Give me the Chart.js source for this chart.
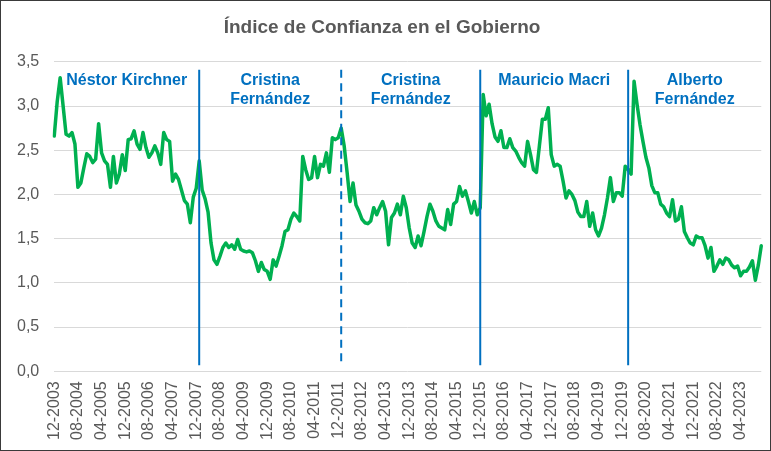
<!DOCTYPE html>
<html>
<head>
<meta charset="utf-8">
<script src="https://cdn.jsdelivr.net/npm/chart.js@4.4.1/dist/chart.umd.min.js"></script>
<style>
  html, body { margin: 0; padding: 0; background: #fff; }
  #frame { width: 771px; height: 451px; box-sizing: border-box; border: 1px solid #3a3a3a; }
  canvas { display: block; }
</style>
</head>
<body>
<div id="frame"><canvas id="myChart" width="769" height="449"></canvas></div>
<script>
// monthly index, first month 12-2003, 240 months
const startYear = 2003;
const startMonth = 12;

const indice = [
  2.66, 3.05, 3.32, 3.00, 2.68, 2.66, 2.70, 2.57, 2.08, 2.13, 2.30, 2.46,
  2.43, 2.36, 2.40, 2.80, 2.47, 2.38, 2.34, 2.08, 2.43, 2.13, 2.23, 2.45,
  2.27, 2.62, 2.63, 2.72, 2.57, 2.51, 2.70, 2.53, 2.42, 2.47, 2.55, 2.47,
  2.34, 2.70, 2.62, 2.60, 2.15, 2.23, 2.17, 2.05, 1.93, 1.89, 1.68, 1.97,
  2.07, 2.38, 2.05, 1.95, 1.80, 1.45, 1.26, 1.21, 1.30, 1.40, 1.45, 1.40,
  1.43, 1.38, 1.49, 1.38, 1.36, 1.35, 1.36, 1.34, 1.25, 1.13, 1.23, 1.15,
  1.13, 1.04, 1.26, 1.19, 1.30, 1.42, 1.58, 1.60, 1.72, 1.79, 1.75, 1.70,
  2.43, 2.28, 2.17, 2.19, 2.43, 2.19, 2.34, 2.32, 2.47, 2.25, 2.64, 2.62,
  2.64, 2.75, 2.55, 2.25, 1.92, 2.13, 1.88, 1.81, 1.72, 1.68, 1.67, 1.70,
  1.85, 1.77, 1.85, 1.92, 1.81, 1.43, 1.74, 1.79, 1.89, 1.77, 1.98, 1.85,
  1.62, 1.45, 1.40, 1.53, 1.42, 1.58, 1.75, 1.89, 1.81, 1.70, 1.64, 1.62,
  1.60, 1.83, 1.66, 1.89, 1.92, 2.09, 1.98, 2.04, 1.92, 1.79, 1.92, 1.77,
  1.85, 3.13, 2.89, 3.02, 2.80, 2.65, 2.60, 2.72, 2.53, 2.53, 2.63, 2.53,
  2.49, 2.42, 2.36, 2.32, 2.60, 2.45, 2.28, 2.25, 2.55, 2.85, 2.85, 2.98,
  2.45, 2.32, 2.34, 2.32, 2.15, 1.96, 2.04, 2.00, 1.93, 1.80, 1.75, 1.75,
  1.92, 1.64, 1.79, 1.60, 1.53, 1.62, 1.77, 1.96, 2.19, 1.92, 2.02, 2.02,
  1.98, 2.32, 2.28, 2.23, 3.28, 3.02, 2.79, 2.60, 2.42, 2.30, 2.10, 2.02,
  2.02, 1.89, 1.86, 1.79, 1.75, 1.94, 1.70, 1.72, 1.86, 1.58, 1.51, 1.45,
  1.43, 1.53, 1.51, 1.51, 1.42, 1.28, 1.40, 1.13, 1.19, 1.26, 1.21, 1.28,
  1.26, 1.20, 1.17, 1.19, 1.08, 1.13, 1.13, 1.18, 1.25, 1.03, 1.20, 1.42
];

// government changes (vertical lines) and names
const markers = ["01-2008", "01-2012", "12-2015", "02-2020"];
const markerDashed = [false, true, false, false];
const periodNames = [
  ["Néstor Kirchner"],
  ["Cristina", "Fernández"],
  ["Cristina", "Fernández"],
  ["Mauricio Macri"],
  ["Alberto", "Fernández"]
];
const yTicks = [0, 0.5, 1, 1.5, 2, 2.5, 3, 3.5];
const labelEvery = 8;

const labels = [];
for (let k = 0; k < indice.length; k++) {
  const m = (startMonth - 1 + k) % 12 + 1;
  const y = startYear + Math.floor((startMonth - 1 + k) / 12);
  labels.push(String(m).padStart(2, "0") + "-" + y);
}

const fontFam = '"Liberation Sans", Arial, sans-serif';
Chart.defaults.font.family = fontFam;

const periods = {
  id: "periods",
  afterDatasetsDraw(chart) {
    const { ctx, chartArea, scales } = chart;
    const x = scales.x;
    ctx.save();
    ctx.strokeStyle = "#0070c0";
    ctx.lineWidth = 2;
    const px = [];
    markers.forEach((m, k) => {
      const p = x.getPixelForValue(labels.indexOf(m));
      px.push(p);
      ctx.setLineDash(markerDashed[k] ? [8, 5.5] : []);
      ctx.beginPath();
      ctx.moveTo(p, chartArea.top + 8);
      ctx.lineTo(p, chartArea.bottom - 6);
      ctx.stroke();
    });
    ctx.setLineDash([]);
    const edges = [chartArea.left, ...px, chartArea.right];
    ctx.fillStyle = "#0070c0";
    ctx.font = "bold 16px " + fontFam;
    ctx.textAlign = "center";
    ctx.textBaseline = "middle";
    periodNames.forEach((lines, k) => {
      const cx = (edges[k] + edges[k + 1]) / 2;
      lines.forEach((t, j) => ctx.fillText(t, cx, chartArea.top + 19 + j * 19));
    });
    ctx.restore();
  }
};

new Chart(document.getElementById("myChart"), {
  type: "line",
  data: {
    labels: labels,
    datasets: [{
      data: indice,
      borderColor: "#00b050",
      borderWidth: 3.5,
      borderJoinStyle: "round",
      borderCapStyle: "round",
      pointRadius: 0,
      tension: 0
    }]
  },
  options: {
    responsive: false,
    animation: false,
    layout: { padding: { left: 1, right: 8, top: 0, bottom: 0 } },
    plugins: {
      legend: { display: false },
      tooltip: { enabled: false },
      title: {
        display: true,
        text: "Índice de Confianza en el Gobierno",
        color: "#595959",
        font: { size: 19, weight: "bold" },
        padding: { top: 15, bottom: 23 }
      }
    },
    scales: {
      x: {
        grid: { display: false, drawTicks: false },
        border: { display: false },
        ticks: {
          autoSkip: false,
          minRotation: 90,
          maxRotation: 90,
          padding: 10,
          color: "#595959",
          font: { size: 16 },
          callback: (v, i) => (i % labelEvery === 0 ? labels[i] : null)
        }
      },
      y: {
        min: yTicks[0],
        max: yTicks[yTicks.length - 1],
        grid: { color: "#d9d9d9", lineWidth: 1, drawTicks: false },
        border: { display: false },
        afterBuildTicks: (s) => { s.ticks = yTicks.map(v => ({ value: v })); },
        ticks: {
          padding: 15,
          color: "#595959",
          font: { size: 16 },
          callback: (v) => Number(v).toFixed(1).replace(".", ",")
        }
      }
    }
  },
  plugins: [periods]
});
</script>
</body>
</html>
